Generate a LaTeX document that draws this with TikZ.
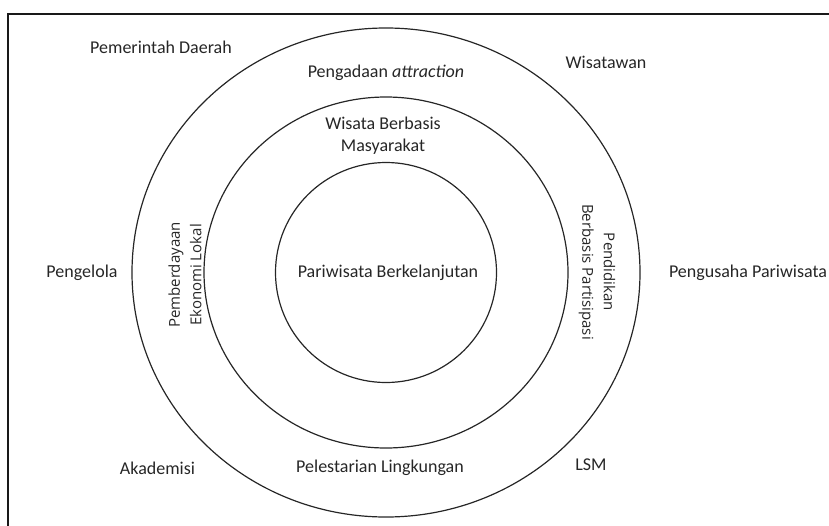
\documentclass[tikz,border=0pt]{standalone}
\usepackage{fontspec}
\setmainfont{Carlito}
\newfontfamily\sidefont{Open Sans}
\usetikzlibrary{calc,positioning}

\begin{document}
\begin{tikzpicture}[x=1pt,y=-1pt,
	lbl/.style={font=\fontsize{18}{22}\selectfont, inner sep=0pt, align=center, text=black!85},
	sidelbl/.style={lbl, font=\sidefont\fontsize{15}{21.5}\selectfont},
	ring/.style={draw=black!85, line width=1.2pt}]
	\useasboundingbox (0,0) rectangle (829,525);
	\draw[line width=2pt, black!90] (8,14) rectangle (850,550);
	
	\coordinate (c) at (386,272.5);
	\draw[ring] (c) ellipse [x radius=254, y radius=244.5];
	\draw[ring] (c) ellipse [x radius=182, y radius=175.5];
	\draw[ring] (c) ellipse [x radius=110.5, y radius=110];
	
	\node[lbl] (core) at ($(c)+(2,0.5)$) {Pariwisata Berkelanjutan};
	\node[lbl] (cbt) at ($(c)+(-3,-136.5)$) {Wisata Berbasis\\Masyarakat};
	\node[lbl] (pengadaan) at ($(c)+(0,-199.5)$) {Pengadaan \textit{attraction}};
	\node[sidelbl, rotate=90] (ekonomi) at ($(c)+(-201,2.5)$) {Pemberdayaan\\Ekonomi Lokal};
	\node[sidelbl, rotate=-90] (pendidikan) at ($(c)+(211,-0.5)$) {Pendidikan\\Berbasis Partisipasi};
	\node[lbl] (pelestarian) at ($(c)+(-6,195.5)$) {Pelestarian Lingkungan};
	
	\node[lbl] (pemda) at (161,47) {Pemerintah Daerah};
	\node[lbl] (wisatawan) at (606,62) {Wisatawan};
	\node[lbl] (pengelola) at (82,273) {Pengelola};
	\node[lbl] (pengusaha) at (748,273) {Pengusaha Pariwisata};
	\node[lbl] (akademisi) at (157.5,468) {Akademisi};
	\node[lbl] (lsm) at (591,465) {LSM};
\end{tikzpicture}
\end{document}
